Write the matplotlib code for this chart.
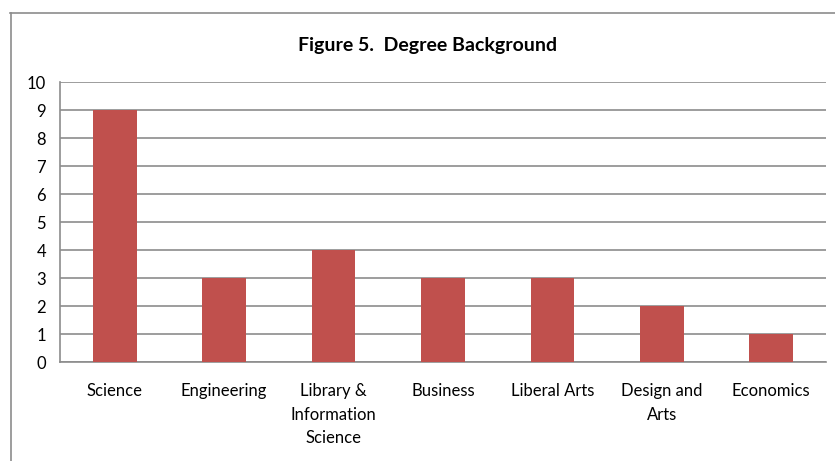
"degree background bar chart"
from matplotlib import pyplot as plt
from matplotlib.lines import Line2D

categories = ["Science", "Engineering", "Library &\nInformation\nScience", "Business",
              "Liberal Arts", "Design and\nArts", "Economics"]
counts = [9, 3, 4, 3, 3, 2, 1]
yticks = list(range(0, 11))

W, H = 835, 461
fig = plt.figure(figsize=(W / 100, H / 100), dpi=100)
plt.rcParams['font.family'] = ['Lato', 'DejaVu Sans']

ax = fig.add_axes([60 / W, (H - 362) / H, (826 - 60) / W, (362 - 82) / H])
x = list(range(len(categories)))
ax.bar(x, counts, width=0.4, color='#C0504D', zorder=3)
ax.set_xlim(-0.5, len(categories) - 0.5)
ax.set_ylim(0, 10)
ax.set_yticks(yticks)
ax.set_xticks(x)
ax.set_xticklabels(categories, fontsize=12, linespacing=1.6, va='top')
ax.tick_params(axis='x', length=0, pad=15)
ax.tick_params(axis='y', length=0, pad=10, labelsize=12)
ax.yaxis.grid(True, color='#8c8c8c', linewidth=1.2, zorder=0)
for s in ['top', 'right']:
    ax.spines[s].set_visible(False)
for s in ['left', 'bottom']:
    ax.spines[s].set_color('#8c8c8c')
    ax.spines[s].set_linewidth(1.2)

fig.text(428 / W, 1 - 45 / H, "Figure 5.  Degree Background", ha='center', va='center',
         fontsize=14, fontweight='bold')

# chart border
fig.add_artist(Line2D([10.5 / W, 10.5 / W], [1 - 13 / H, 0], color='#8c8c8c', linewidth=1.2))
fig.add_artist(Line2D([10 / W, 1], [1 - 13 / H, 1 - 13 / H], color='#8c8c8c', linewidth=1.2))

plt.savefig("out.png", dpi=100)
